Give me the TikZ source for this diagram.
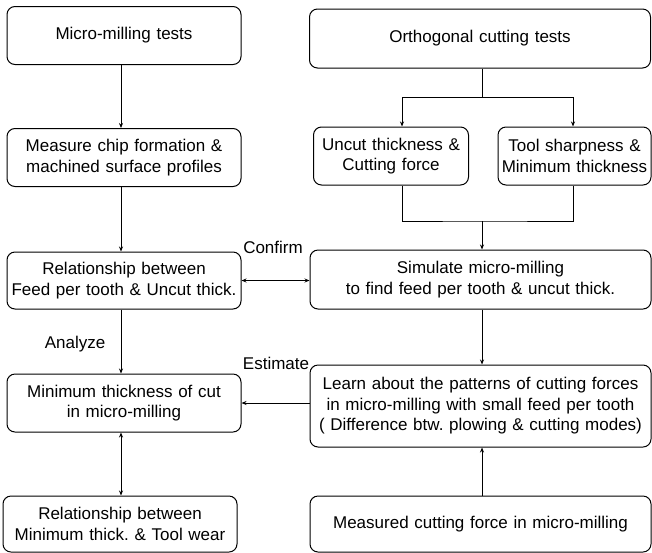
\documentclass[tikz,border=0pt]{standalone}
\usepackage{fontspec}
\setmainfont{Liberation Sans}
\usetikzlibrary{arrows.meta,positioning,calc}
\tikzset{
  box/.style={rectangle, rounded corners=8pt, draw=black, line width=1pt,
              align=center, inner sep=0pt, font=\fontsize{17}{20.5}\selectfont},
  leftbox/.style={box, text width=234pt, minimum height=58pt},
  widebox/.style={box, text width=341pt, minimum height=59pt},
  smallbox/.style={box, text width=155pt, minimum height=58pt},
  lbl/.style={font=\fontsize{17}{20}\selectfont},
  link/.style={draw=black, line width=0.8pt},
  flow/.style={-{Stealth[length=5pt, width=4pt]}, link},
  twoway/.style={{Stealth[length=5pt, width=4pt]}-{Stealth[length=5pt, width=4pt]}, link}
}

\begin{document}
\frenchspacing
\begin{tikzpicture}[x=1pt, y=-1pt]
  \useasboundingbox (0,0) rectangle (652,552);

  % left column
  \node[leftbox] (mill) at (124,35.5) {Micro-milling tests};
  \node[leftbox] (chip) at (124,157.5) {Measure chip formation \&\\machined surface profiles};
  \node[leftbox, minimum height=57pt] (relfeed) at (124,280.5) {Relationship between\\Feed per tooth \& Uncut thick.};
  \node[leftbox] (minthick) at (124,403) {Minimum thickness of cut\\in micro-milling};
  \node[leftbox, minimum height=56pt] (relwear) at (120,524) {Relationship between\\Minimum thick. \& Tool wear};

  % right column
  \node[widebox] (ortho) at (480,38.5) {Orthogonal cutting tests};
  \node[smallbox] (uncut) at (391,156) {Uncut thickness \&\\Cutting force};
  \node[smallbox, text width=153pt] (sharp) at (574.5,156) {Tool sharpness \&\\Minimum thickness};
  \node[widebox] (simul) at (480.5,279.5) {Simulate micro-milling\\to find feed per tooth \& uncut thick.};
  \node[widebox, minimum height=82pt] (learn) at (480.5,406) {Learn about the patterns of cutting forces\\in micro-milling with small feed per tooth\\( Difference btw. plowing \& cutting modes)};
  \node[widebox, minimum height=56pt] (forces) at (480.5,524) {Measured cutting force in micro-milling};

  % labels
  \node[lbl] (confirm) at (273,247) {Confirm};
  \node[lbl] (analyze) at (75,344) {Analyze};
  \node[lbl] (estimate) at (276,363) {Estimate};

  % helper columns
  \coordinate (lc) at (121,0);
  \coordinate (rc) at (482,0);
  \coordinate (bl) at (402,0);
  \coordinate (br) at (573,0);
  \coordinate (split) at (482,97);
  \coordinate (join) at (482,221);

  \draw[flow] (mill.south -| lc) -- (chip.north -| lc);
  \draw[flow] (chip.south -| lc) -- (relfeed.north -| lc);
  \draw[flow] (relfeed.south -| lc) -- (minthick.north -| lc);
  \draw[twoway] (minthick.south -| lc) -- (relwear.north -| lc);

  \draw[link] (ortho.south -| rc) -- (split);
  \draw[flow] (split) -| (uncut.north -| bl);
  \draw[flow] (split) -| (sharp.north -| br);
  \draw[link] (uncut.south -| bl) |- (join) -| (sharp.south -| br);
  \draw[flow] (join) -- (simul.north -| rc);
  \draw[flow] (simul.south -| rc) -- (learn.north -| rc);
  \draw[flow] (forces.north -| rc) -- (learn.south -| rc);

  \draw[twoway] (relfeed.east) -- (relfeed.east -| simul.west);
  \draw[flow] (learn.west |- minthick.east) -- (minthick.east);
\end{tikzpicture}
\end{document}
